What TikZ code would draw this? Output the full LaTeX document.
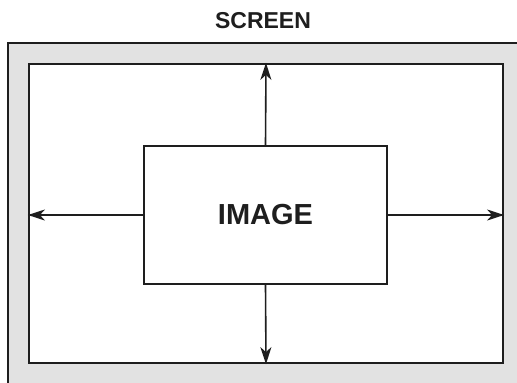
\documentclass[tikz,border=0pt]{standalone}
\usepackage{fontspec}
\setmainfont{Liberation Sans}
\usetikzlibrary{arrows.meta,positioning}
\definecolor{Ink}{HTML}{1E1E1E}
\definecolor{Stipple}{HTML}{E2E2E2}
\tikzset{
  frame/.style={
    draw=Ink,line width=2.2pt,fill=white,inner sep=0pt,
    minimum width=474pt,minimum height=299pt
  },
  imagebox/.style={
    draw=Ink,line width=1.8pt,fill=white,inner sep=0pt,
    minimum width=243pt,minimum height=138pt,
    font=\fontsize{29}{30}\selectfont\bfseries,text=Ink
  },
  caption/.style={font=\fontsize{23}{24}\selectfont\bfseries,text=Ink},
  arrow/.style={-{Stealth[length=17pt,width=11pt,inset=5pt]},line width=1.6pt,draw=Ink}
}

\begin{document}
\begin{tikzpicture}[x=1pt,y=-1pt]
      \useasboundingbox (0,0) rectangle (517,383);
      % stippled border of the screen
      \begin{scope}
        \clip (0,0) rectangle (517,383);
        \draw[draw=Ink,line width=2.2pt,fill=Stipple] (8,43) rectangle (530,400);
      \end{scope}
      \node[frame] (screen) at (266,213.5) {};
      \node[caption] (title) at (263,20.5) {SCREEN};
      \node[imagebox] (image) at (265.5,215) {IMAGE};
      \draw[arrow] (image.north) -- (screen.north);
      \draw[arrow] (image.south) -- (screen.south);
      \draw[arrow] (image.west) -- (image.west -| screen.west);
      \draw[arrow] (image.east) -- (image.east -| screen.east);
    \end{tikzpicture}
\end{document}
